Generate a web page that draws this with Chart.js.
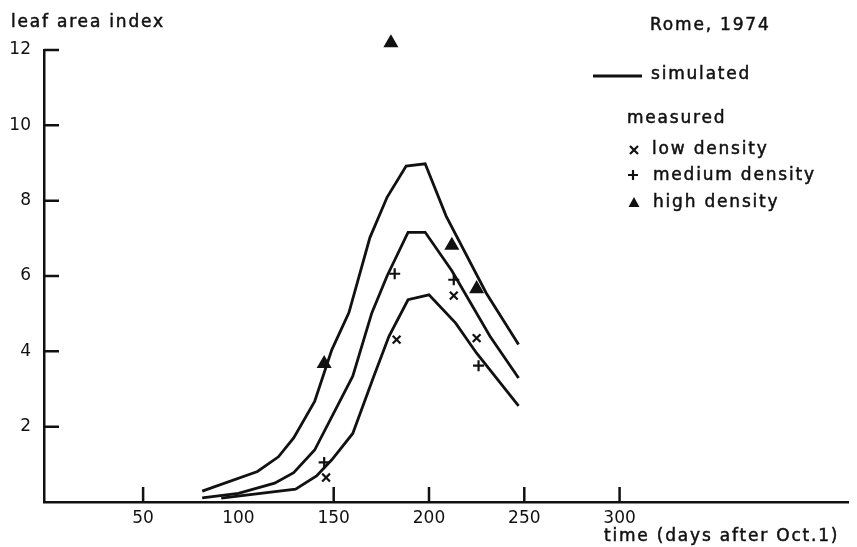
<!DOCTYPE html>
<html>
<head>
<meta charset="utf-8">
<script src="https://cdn.jsdelivr.net/npm/chart.js@4"></script>
<style>
  html, body { margin: 0; padding: 0; background: #fff; }
  #wrap { width: 857px; height: 547px; }
</style>
</head>
<body>
<div id="wrap"><canvas id="c" width="857" height="547"></canvas></div>
<script>
// simulated curves (days after Oct.1, leaf area index)
const highSimDays = [81, 110, 121, 129, 140, 145, 149, 158, 169, 178, 188, 198, 209, 230, 247];
const highSim = [0.29, 0.81, 1.2, 1.7, 2.67, 3.43, 4.04, 5.03, 7.02, 8.09, 8.92, 8.98, 7.59, 5.55, 4.18];
const medSimDays = [81, 100, 119, 129, 140, 160, 170, 178, 189, 198, 212, 232, 247];
const medSim = [0.11, 0.23, 0.5, 0.78, 1.38, 3.34, 5.02, 6.0, 7.16, 7.16, 6.14, 4.4, 3.29];
const lowSimDays = [91, 130, 141, 149, 160, 171, 179, 189, 200, 214, 225, 247];
const lowSim = [0.1, 0.34, 0.69, 1.12, 1.82, 3.33, 4.4, 5.37, 5.5, 4.75, 3.95, 2.55];

// measured points
const lowMeasDays = [146, 183, 213, 225];
const lowMeas = [0.65, 4.31, 5.48, 4.35];
const medMeasDays = [145, 182, 213, 226];
const medMeas = [1.05, 6.06, 5.9, 3.62];
const highMeasDays = [145, 180, 212, 225];
const highMeas = [3.67, 12.19, 6.81, 5.66];

// axis ticks
const xTicks = [50, 100, 150, 200, 250, 300];
const xTickMarks = [50, 150, 200, 250, 300];
const yTicks = [2, 4, 6, 8, 10, 12];

const ink = '#111';
const font = '17px "DejaVu Sans"';

function pts(xs, ys) {
  return xs.map((x, i) => ({ x: x, y: ys[i] }));
}

function simLine(xs, ys) {
  return {
    data: pts(xs, ys), showLine: true, borderColor: ink, borderWidth: 2.8,
    pointRadius: 0, tension: 0, clip: false
  };
}

function measured(xs, ys, style, r) {
  return {
    data: pts(xs, ys), showLine: false, pointStyle: style, pointRadius: r,
    borderColor: ink, backgroundColor: ink, borderWidth: 2.2, clip: false
  };
}

function label(ctx, text, x, y) {
  ctx.fillText(text, x, y);
  ctx.strokeText(text, x, y);
}

// inward tick marks, titles and the hand-drawn legend
const overlay = {
  id: 'overlay',
  afterDraw(chart) {
    const ctx = chart.ctx;
    const xs = chart.scales.x, ys = chart.scales.y;
    const a = chart.chartArea;
    ctx.save();
    ctx.strokeStyle = ink;
    ctx.fillStyle = ink;
    ctx.lineWidth = 2.5;
    ctx.beginPath();
    yTicks.forEach(v => {
      const py = ys.getPixelForValue(v);
      ctx.moveTo(a.left, py); ctx.lineTo(a.left + 15, py);
    });
    xTickMarks.forEach(v => {
      const px = xs.getPixelForValue(v);
      ctx.moveTo(px, a.bottom); ctx.lineTo(px, a.bottom - 15);
    });
    ctx.stroke();

    ctx.font = font;
    ctx.letterSpacing = '1.8px';
    ctx.lineWidth = 0.5;
    ctx.textBaseline = 'alphabetic';
    ctx.textAlign = 'left';
    label(ctx, 'leaf area index', 11, 27);
    label(ctx, 'Rome, 1974', 650, 30);
    label(ctx, 'time (days after Oct.1)', 604, 541);

    // legend
    label(ctx, 'simulated', 651, 79);
    label(ctx, 'measured', 627, 123);
    label(ctx, 'low density', 652, 154);
    label(ctx, 'medium density', 653, 180);
    label(ctx, 'high density', 653, 207);

    ctx.lineWidth = 2.8;
    ctx.beginPath();
    ctx.moveTo(593, 76); ctx.lineTo(642, 76);
    ctx.stroke();

    ctx.lineWidth = 2.2;
    ctx.beginPath();
    // x mark
    ctx.moveTo(630, 146); ctx.lineTo(638, 154);
    ctx.moveTo(638, 146); ctx.lineTo(630, 154);
    // plus mark
    ctx.moveTo(628, 175); ctx.lineTo(638, 175);
    ctx.moveTo(633, 170); ctx.lineTo(633, 180);
    ctx.stroke();
    // triangle
    ctx.beginPath();
    ctx.moveTo(634, 197); ctx.lineTo(639.5, 207); ctx.lineTo(628.5, 207);
    ctx.closePath();
    ctx.fill();
    ctx.restore();
  }
};

new Chart(document.getElementById('c'), {
  type: 'scatter',
  data: {
    datasets: [
      simLine(highSimDays, highSim),
      simLine(medSimDays, medSim),
      simLine(lowSimDays, lowSim),
      measured(lowMeasDays, lowMeas, 'crossRot', 5.5),
      measured(medMeasDays, medMeas, 'cross', 5.5),
      measured(highMeasDays, highMeas, 'triangle', 6.5)
    ]
  },
  options: {
    responsive: false,
    animation: false,
    layout: { padding: { top: 50, right: 7, left: 0, bottom: 0 } },
    plugins: { legend: { display: false }, tooltip: { enabled: false } },
    scales: {
      x: {
        type: 'linear', min: -2, max: 420,
        afterBuildTicks: s => { s.ticks = xTicks.map(v => ({ value: v })); },
        afterFit: s => { s.height = 45; },
        grid: { display: false, drawTicks: false },
        border: { display: true, color: ink, width: 2.5 },
        ticks: { color: ink, font: { family: 'DejaVu Sans', size: 17 }, padding: 6, maxRotation: 0, autoSkip: false }
      },
      y: {
        type: 'linear', min: 0, max: 12,
        afterBuildTicks: s => { s.ticks = yTicks.map(v => ({ value: v })); },
        afterFit: s => { s.width = 44; },
        grid: { display: false, drawTicks: false },
        border: { display: true, color: ink, width: 2.5 },
        ticks: { color: ink, font: { family: 'DejaVu Sans', size: 17 }, padding: 13 }
      }
    }
  },
  plugins: [overlay]
});
</script>
</body>
</html>
